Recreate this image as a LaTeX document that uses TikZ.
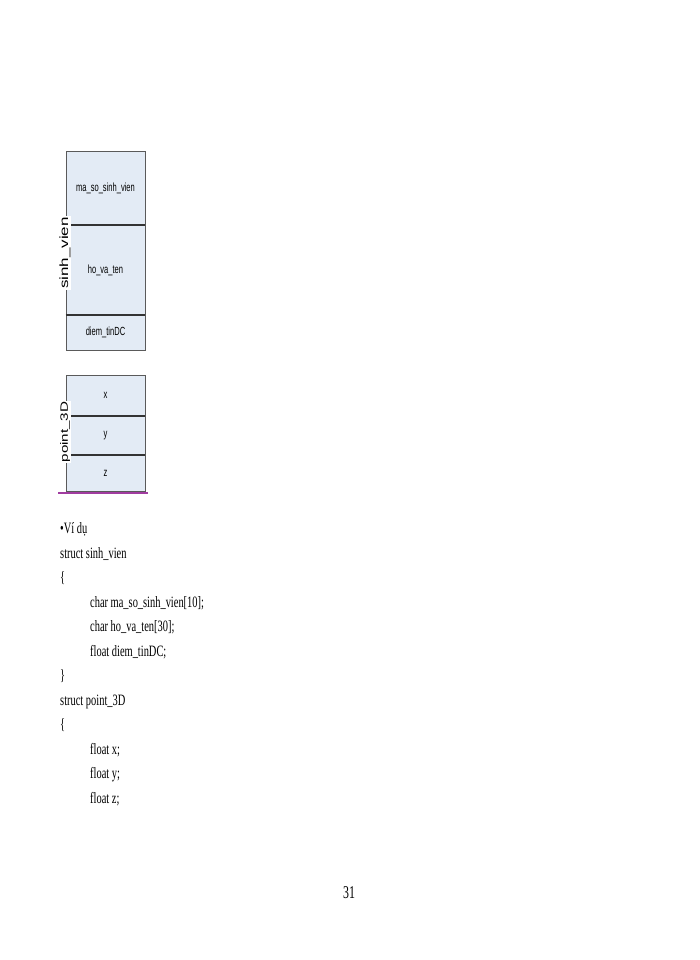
\documentclass[tikz,border=0pt]{standalone}
\usepackage{fontspec}
\setmainfont{Liberation Serif}
\newfontfamily\bodyfont[FakeStretch=0.66]{Liberation Serif}
\newfontfamily\boxfont[FakeStretch=0.64]{Liberation Sans}
\newfontfamily\labfont{Liberation Sans}
\definecolor{boxblue}{HTML}{E3EBF5}
\definecolor{boxline}{HTML}{5A5A5A}
\definecolor{divline}{HTML}{333333}
\definecolor{purpleline}{HTML}{A03CA0}
\begin{document}
\begin{tikzpicture}[x=1pt,y=-1pt,
  cell/.style={draw=boxline, fill=boxblue, line width=0.8pt, minimum width=79pt,
    inner sep=0pt, font=\boxfont\fontsize{11.8}{13}\selectfont},
  divider/.style={draw=divline, line width=2pt},
  code/.style={anchor=base west, inner sep=0pt, font=\bodyfont\fontsize{15.8}{18}\selectfont},
  sidelab/.style={rotate=90, fill=white, inner sep=0.8pt}]
\useasboundingbox (0,0) rectangle (700,960);
\fill[white] (0,0) rectangle (700,960);
% struct sinh_vien box
\node[cell, minimum height=74pt] (c1) at (105.5,188) {ma\_so\_sinh\_vien};
\node[cell, minimum height=90pt] (c2) at (105.5,270) {ho\_va\_ten};
\node[cell, minimum height=35pt] (c3) at (105.5,332.5) {diem\_tinDC};
\draw[divider] (c1.south west) -- (c1.south east);
\draw[divider] (c2.south west) -- (c2.south east);
\node[sidelab] (l1) at (65,253) {\scalebox{1}[0.7]{\labfont\fontsize{17}{17}\selectfont sinh\_vien}};
% struct point_3D box
\node[cell, minimum height=41pt] (p1) at (105.5,395.5) {x};
\node[cell, minimum height=39pt] (p2) at (105.5,435.5) {y};
\node[cell, minimum height=36pt] (p3) at (105.5,473) {z};
\draw[divider] (p1.south west) -- (p1.south east);
\draw[divider] (p2.south west) -- (p2.south east);
\node[sidelab] (l2) at (65,432) {\scalebox{1}[0.7]{\labfont\fontsize{15.2}{15}\selectfont point\_3D}};
\coordinate (u1) at (58,493);
\coordinate (u2) at (148,493);
\draw[purpleline, line width=1.2pt] (u1) -- (u2);
% code text
\node[code] (t1) at (60,533) {•Ví dụ};
\node[code] (t2) at (60,558) {struct sinh\_vien};
\node[code] (t3) at (60,582) {\{};
\node[code] (t4) at (90,607) {char ma\_so\_sinh\_vien[10];};
\node[code] (t5) at (90,631) {char ho\_va\_ten[30];};
\node[code] (t6) at (90,656) {float diem\_tinDC;};
\node[code] (t7) at (60,680) {\}};
\node[code] (t8) at (60,705) {struct point\_3D};
\node[code] (t9) at (60,729) {\{};
\node[code] (t10) at (90,754) {float x;};
\node[code] (t11) at (90,778) {float y;};
\node[code] (t12) at (90,803) {float z;};
\node[code, anchor=base] (pg) at (349,898) {\fontsize{18}{18}\selectfont 31};
\end{tikzpicture}
\end{document}
